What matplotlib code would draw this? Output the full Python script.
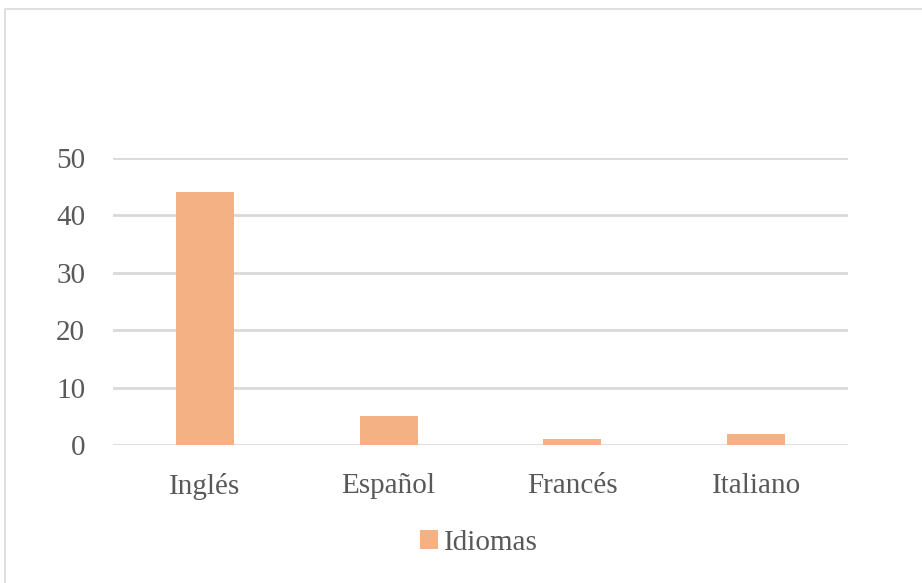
import matplotlib
matplotlib.use("Agg")
import matplotlib.pyplot as plt
from matplotlib.patches import Rectangle

categories = ["Inglés", "Español", "Francés", "Italiano"]
values = [44, 5, 1, 2]
series_name = "Idiomas"
yticks = [0, 10, 20, 30, 40, 50]

W, H = 922, 583
fig = plt.figure(figsize=(W / 100, H / 100), dpi=100)
plt.rcParams['font.family'] = ['Liberation Serif', 'DejaVu Serif']

# outer chart border
fig.patches.append(Rectangle((5 / W, -0.1), 2.0, 1 - 9 / H + 0.1, transform=fig.transFigure,
                             fill=False, edgecolor='#D9D9D9', linewidth=1.2))

ax = fig.add_axes([113 / W, 1 - 445 / H, (848 - 113) / W, (445 - 158) / H])
x = range(len(categories))
bars = ax.bar(x, values, width=0.316, color='#F4B183', label=series_name, zorder=3)
ax.set_xlim(-0.5, len(categories) - 0.5)
ax.set_ylim(0, 50)
ax.set_yticks(yticks)
ax.set_xticks(list(x))
ax.set_xticklabels(categories)
ax.grid(axis='y', color='#D9D9D9', linewidth=2, zorder=0)
for s in ax.spines.values():
    s.set_visible(False)
ax.tick_params(axis='both', length=0, labelsize=21, labelcolor='#595959')
ax.tick_params(axis='y', pad=20)
ax.tick_params(axis='x', pad=20)

leg = fig.legend(handles=[bars], labels=[series_name], loc='center',
                 bbox_to_anchor=(479 / W, 1 - 543 / H), frameon=False,
                 fontsize=21, handlelength=0.6, handleheight=0.6, handletextpad=0.2,
                 labelcolor='#595959')

fig.savefig("out.png", dpi=100)
